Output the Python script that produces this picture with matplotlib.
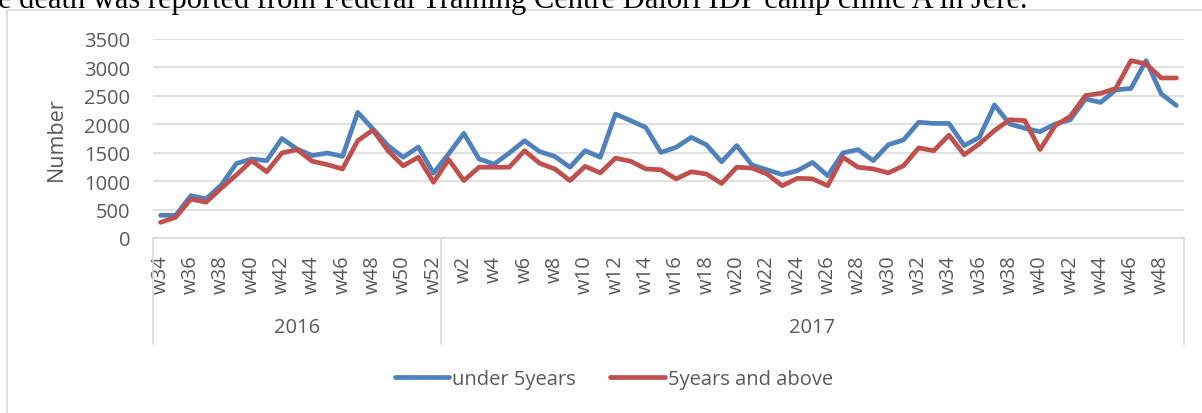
import matplotlib.pyplot as plt
from matplotlib.patches import Rectangle

# semaines (categories)
semaines_2016 = [f"w{n}" for n in range(34, 53)]
semaines_2017 = [f"w{n}" for n in range(1, 50)]
annees = ["2016", "2017"]

# valeurs
moins_5ans = [400, 400, 745, 690, 930, 1310, 1390, 1360, 1750, 1565, 1450, 1495,
              1435, 2210, 1920, 1625, 1420, 1600, 1140,
              1480, 1840, 1390, 1300, 1495, 1710, 1520, 1435, 1245, 1535, 1420,
              2180, 2065, 1945, 1505, 1595, 1770, 1640, 1340, 1625, 1285, 1200,
              1115, 1185, 1330, 1095, 1495, 1555, 1360, 1640, 1725, 2035, 2015,
              2015, 1625, 1770, 2340, 2005, 1930, 1870, 2005, 2080, 2445, 2385,
              2605, 2630, 3120, 2535, 2330]

plus_5ans = [275, 365, 685, 630, 875, 1110, 1360, 1165, 1495, 1555, 1350, 1290,
             1215, 1710, 1900, 1535, 1270, 1420, 980,
             1380, 1010, 1245, 1245, 1245, 1535, 1315, 1215, 1010, 1260, 1145,
             1405, 1350, 1215, 1200, 1040, 1165, 1125, 960, 1245, 1230, 1125,
             920, 1050, 1040, 920, 1420, 1245, 1215, 1145, 1270, 1585, 1535,
             1810, 1465, 1655, 1890, 2080, 2065, 1555, 1975, 2140, 2505, 2545,
             2630, 3120, 3060, 2815, 2815]

series_noms = ["under 5years", "5years and above"]

gris = "#595959"
grille = "#D9D9D9"
plt.rcParams['font.family'] = ['Open Sans', 'DejaVu Sans']

semaines = semaines_2016 + semaines_2017
x = list(range(len(semaines)))

fig = plt.figure(figsize=(12.02, 4.14), dpi=100)
W, H = 1202, 414

# cadre du graphique (coupe a droite et en bas)
fig.patches.append(Rectangle((7 / W, -0.2), 1.2, 1.2 - 11 / H,
                             transform=fig.transFigure, fill=False,
                             edgecolor=grille, linewidth=1.2))

# texte du document au-dessus, coupe en haut
fig.text(-2 / W, 1 - 8 / H,
         "e death was reported from Federal Training Centre Dalori IDP camp clinic A in Jere.",
         family="Liberation Serif", fontsize=22, color="black", va="baseline")

ax = fig.add_axes([153 / W, 1 - 239 / H, (1184 - 153) / W, (239 - 40) / H])

ax.plot(x, moins_5ans, color="#4F81BD", linewidth=3.4,
        solid_joinstyle="round", solid_capstyle="round", label=series_noms[0])
ax.plot(x, plus_5ans, color="#C0504D", linewidth=3.4,
        solid_joinstyle="round", solid_capstyle="round", label=series_noms[1])

ax.set_xlim(-0.5, len(semaines) - 0.5)
ax.set_ylim(0, 3500)
ax.set_yticks(range(0, 3501, 500))
ax.grid(axis="y", color=grille, linewidth=1.1)
ax.set_axisbelow(True)

for cote in ["top", "right", "left"]:
    ax.spines[cote].set_visible(False)
ax.spines["bottom"].set_color(grille)
ax.spines["bottom"].set_linewidth(1.1)

# une etiquette sur deux : w34, w36..w52 puis w2, w4..w48
etiquettes = semaines_2016[0::2] + semaines_2017[1::2]
positions = [i for i in x if semaines[i] in etiquettes]
ax.set_xticks(positions)
ax.set_xticklabels([semaines[i] for i in positions], rotation=90)

ax.tick_params(axis="x", length=0, pad=12, labelsize=14.5, labelcolor=gris)
ax.tick_params(axis="y", length=0, pad=16.5, labelsize=14.5, labelcolor=gris)
ax.set_ylabel("Number", fontsize=15.5, color=gris, labelpad=12)

# axe des categories a deux niveaux
trans = ax.get_xaxis_transform()
bas = -(345 - 239) / (239 - 40)
separations = [-0.5, len(semaines_2016) - 0.5, len(semaines) - 0.5]
for s in separations:
    ax.plot([s, s], [0, bas], transform=trans, color=grille,
            linewidth=1.1, clip_on=False)

centres = [(separations[0] + separations[1]) / 2, (separations[1] + separations[2]) / 2]
for c, annee in zip(centres, annees):
    ax.text(c, -(328 - 239) / (239 - 40), annee, transform=trans,
            ha="center", va="center", fontsize=14.5, color=gris)

fig.legend(loc="center", bbox_to_anchor=(614 / W, 1 - 380 / H), ncol=2,
           frameon=False, fontsize=14.5, handlelength=2.7, handletextpad=0.15,
           columnspacing=1.7, labelcolor=gris)

fig.savefig("out.png", dpi=100)
